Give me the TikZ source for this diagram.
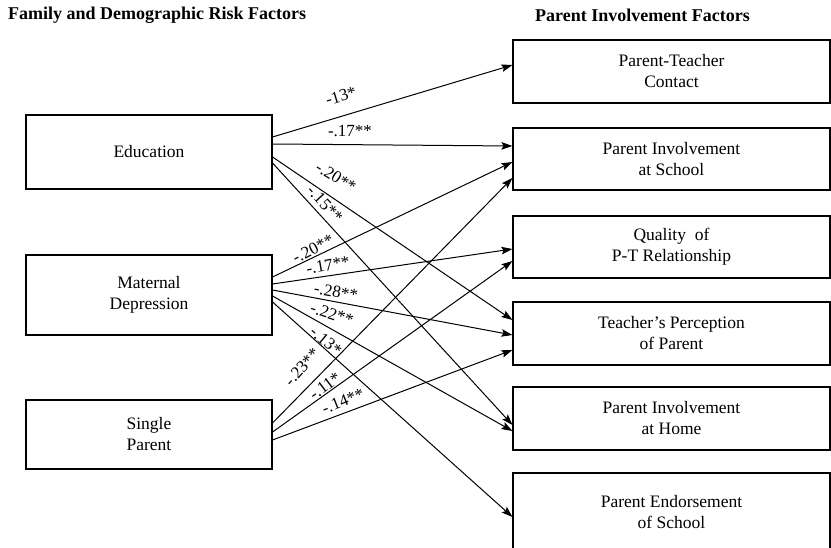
\documentclass[tikz,border=0pt]{standalone}
\usepackage{fontspec}
\setmainfont{Liberation Serif}
\usetikzlibrary{arrows.meta}
\newcommand\boxfont{\fontsize{17.5}{21}\selectfont}
\newcommand\lblfont{\fontsize{17}{20}\selectfont}
\newcommand\headfont{\fontsize{18}{21}\selectfont\bfseries}
\tikzset{
  lbox/.style={draw, line width=1.1pt, minimum width=246pt, minimum height=#1, inner sep=0pt, align=center, font=\boxfont},
  rbox/.style={draw, line width=1.1pt, minimum width=317pt, minimum height=#1, inner sep=0pt, align=center, font=\boxfont},
  conn/.style={line width=1pt, -{Stealth[length=11pt,width=7.5pt,inset=2pt]}},
  lbl/.style={inner sep=0pt, font=\lblfont},
  head/.style={inner sep=0pt, font=\headfont, anchor=west}
}
\begin{document}
\begin{tikzpicture}[x=1pt,y=-1pt]
\useasboundingbox (0,0) rectangle (831,548);
% headers
\node[head] (h1) at (8,15) {Family and Demographic Risk Factors};
\node[head] (h2) at (535,15) {Parent Involvement Factors};
% left boxes
\node[lbox=74pt] (edu) at (149,152) {Education};
\node[lbox=80pt] (mat) at (149,295) {Maternal\\Depression};
\node[lbox=69pt] (sing) at (149,434.5) {Single\\Parent};
% right boxes
\node[rbox=63pt] (ptc) at (671.5,71.5) {Parent-Teacher\\Contact};
\node[rbox=62pt] (pis) at (671.5,159) {Parent Involvement\\at School};
\node[rbox=62pt] (qual) at (671.5,247) {Quality~~of\\P-T Relationship};
\node[rbox=63pt] (tpp) at (671.5,333.5) {Teacher's Perception\\of Parent};
\node[rbox=63pt] (pih) at (671.5,418.5) {Parent Involvement\\at Home};
\node[rbox=78pt] (pes) at (671.5,512) {Parent Endorsement\\of School};
% connectors from Education
\draw[conn] ([yshift=15pt]edu.east) -- ([yshift=6.5pt]ptc.west);
\draw[conn] ([yshift=8pt]edu.east) -- ([yshift=13pt]pis.west);
\draw[conn] ([yshift=-5pt]edu.east) -- ([yshift=13.5pt]tpp.west);
\draw[conn] ([yshift=-11pt]edu.east) -- ([yshift=-6.5pt]pih.west);
% connectors from Maternal Depression
\draw[conn] ([yshift=18pt]mat.east) -- ([yshift=-3pt]pis.west);
\draw[conn] ([yshift=11pt]mat.east) -- ([yshift=-2pt]qual.west);
\draw[conn] ([yshift=5pt]mat.east) -- ([yshift=-1.5pt]tpp.west);
\draw[conn] ([yshift=-1pt]mat.east) -- ([yshift=-12.5pt]pih.west);
\draw[conn] ([yshift=-7pt]mat.east) -- ([yshift=-5pt]pes.west);
% connectors from Single Parent
\draw[conn] ([yshift=11.5pt]sing.east) -- ([yshift=-19pt]pis.west);
\draw[conn] ([yshift=2.5pt]sing.east) -- ([yshift=-14pt]qual.west);
\draw[conn] ([yshift=-5.5pt]sing.east) -- ([yshift=-16.5pt]tpp.west);
% labels
\node[lbl, rotate=17] (l1) at (341,96) {-13*};
\node[lbl] (l2) at (350,131) {-.17**};
\node[lbl, rotate=-32] (l3) at (336,177) {-.20**};
\node[lbl, rotate=-47] (l4) at (325,204) {-.15**};
\node[lbl, rotate=27] (l5) at (313,249) {-.20**};
\node[lbl, rotate=10] (l6) at (328,265) {-.17**};
\node[lbl, rotate=-10] (l7) at (336,292) {-.28**};
\node[lbl, rotate=-18] (l8) at (332,314) {-.22**};
\node[lbl, rotate=-40] (l9) at (326,341) {-.13*};
\node[lbl, rotate=48] (l10) at (302,367) {-.23**};
\node[lbl, rotate=37] (l11) at (325,386) {-.11*};
\node[lbl, rotate=22] (l12) at (343,401) {-.14**};
\end{tikzpicture}
\end{document}
